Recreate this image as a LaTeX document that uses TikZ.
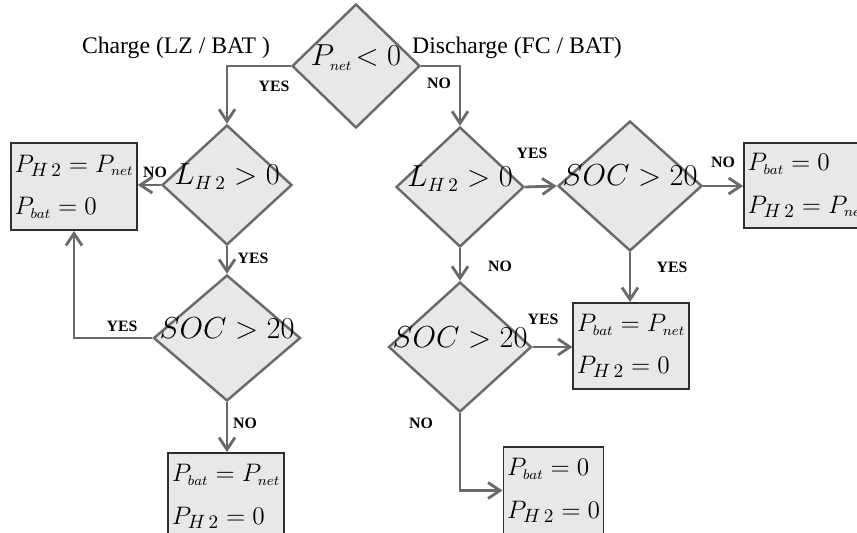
\documentclass[tikz,border=0pt]{standalone}
\usepackage{amsmath,amssymb}
\usepackage{fontspec}
\setmainfont{Liberation Serif}
\usetikzlibrary{shapes.geometric,arrows.meta}
\definecolor{linegray}{HTML}{6A6A6A}
\definecolor{fillgray}{HTML}{E8E8E8}
\definecolor{boxline}{HTML}{2E2E2E}
\newcommand{\tinysub}[1]{_{\scriptscriptstyle #1}}

\begin{document}
\begin{tikzpicture}[x=0.02cm, y=-0.02cm,
  decision/.style={diamond, draw=linegray, fill=fillgray, line width=1.4pt, inner sep=0pt, font=\fontsize{16}{20}\selectfont},
  result/.style={rectangle, draw=boxline, fill=fillgray, line width=1.1pt, align=left, inner xsep=2pt, inner ysep=0pt, font=\fontsize{15.5}{24}\selectfont},
  flow/.style={draw=linegray, line width=1.6pt, -{Straight Barb[length=2.4mm, width=3.2mm]}},
  answer/.style={font=\bfseries\fontsize{9}{10}\selectfont},
  heading/.style={font=\fontsize{13.5}{15}\selectfont}]
  \useasboundingbox (0,0) rectangle (857,533);
  \clip (0,0) rectangle (857,533);
  \node[heading] (charge) at (176, 48) {Charge (LZ / BAT )};
  \node[heading] (discharge) at (517, 48) {Discharge (FC / BAT)};
  \node[decision, minimum width=2.56cm, minimum height=2.48cm] (pnet) at (356, 66) {\smash{\makebox[0pt]{$P\tinysub{net}\!<0$}}};
  \node[decision, minimum width=2.6cm, minimum height=2.4cm] (lhL) at (227, 185) {\smash{\makebox[0pt]{$L_{H\,2}>0$}}};
  \node[decision, minimum width=2.94cm, minimum height=2.52cm] (socL) at (227, 338) {\smash{\makebox[0pt]{$SOC>20$}}};
  \node[decision, minimum width=2.56cm, minimum height=2.4cm] (lhR) at (460, 187) {\smash{\makebox[0pt]{$L_{H\,2}>0$}}};
  \node[decision, minimum width=2.88cm, minimum height=2.6cm] (socR) at (630, 186) {\smash{\makebox[0pt]{$SOC>20$}}};
  \node[decision, minimum width=2.86cm, minimum height=2.6cm] (soc3) at (460, 347) {\smash{\makebox[0pt]{$SOC>20$}}};
  \node[result, minimum width=2.44cm, minimum height=1.74cm] (box1) at (74, 186.5) {$P_{H\,2}=P\tinysub{net}$\\$P\tinysub{bat}=0$};
  \node[result, minimum width=2.32cm, minimum height=1.74cm] (box2) at (226, 496.5) {$P\tinysub{bat}=P\tinysub{net}$\\$P_{H\,2}=0$};
  \node[result, minimum width=2.4cm, minimum height=1.70cm] (box3) at (807, 185.5) {$P\tinysub{bat}=0$\\$P_{H\,2}=P\tinysub{net}$};
  \node[result, minimum width=2.3cm, minimum height=1.72cm] (box4) at (631, 346) {$P\tinysub{bat}=P\tinysub{net}$\\$P_{H\,2}=0$};
  \node[result, minimum width=1.9cm, minimum height=1.74cm] (box5) at (553.5, 490.5) {$P\tinysub{bat}=0$\\$P_{H\,2}=0$};
  \draw[flow] (pnet.west) -| (lhL.north);
  \draw[flow] (pnet.east) -| (lhR.north);
  \draw[flow] (lhL.west) -- (lhL.west -| box1.east);
  \draw[flow] (lhL.south) -- (socL.north);
  \draw[flow] (socL.west) -| (box1.south);
  \draw[flow] (socL.south) -- (socL.south |- box2.north);
  \draw[flow] (lhR.east) -- (socR.west);
  \draw[flow] (socR.east) -- (socR.east -| box3.west);
  \draw[flow] (socR.south) -- (socR.south |- box4.north);
  \draw[flow] (lhR.south) -- (soc3.north);
  \draw[flow] (soc3.east) -- (soc3.east -| box4.west);
  \draw[flow] (soc3.south) |- (box5.west);
  \node[answer] (yes1) at (274, 86) {YES};
  \node[answer] (no1) at (439, 83) {NO};
  \node[answer] (no2) at (155, 172) {NO};
  \node[answer] (yes2) at (253, 258) {YES};
  \node[answer] (yes3) at (122, 326) {YES};
  \node[answer] (no3) at (245, 423) {NO};
  \node[answer] (yes4) at (532, 153) {YES};
  \node[answer] (no4) at (723, 162) {NO};
  \node[answer] (yes5) at (672, 267) {YES};
  \node[answer] (no5) at (500, 266) {NO};
  \node[answer] (yes6) at (543, 319) {YES};
  \node[answer] (no6) at (421, 423) {NO};
\end{tikzpicture}
\end{document}
